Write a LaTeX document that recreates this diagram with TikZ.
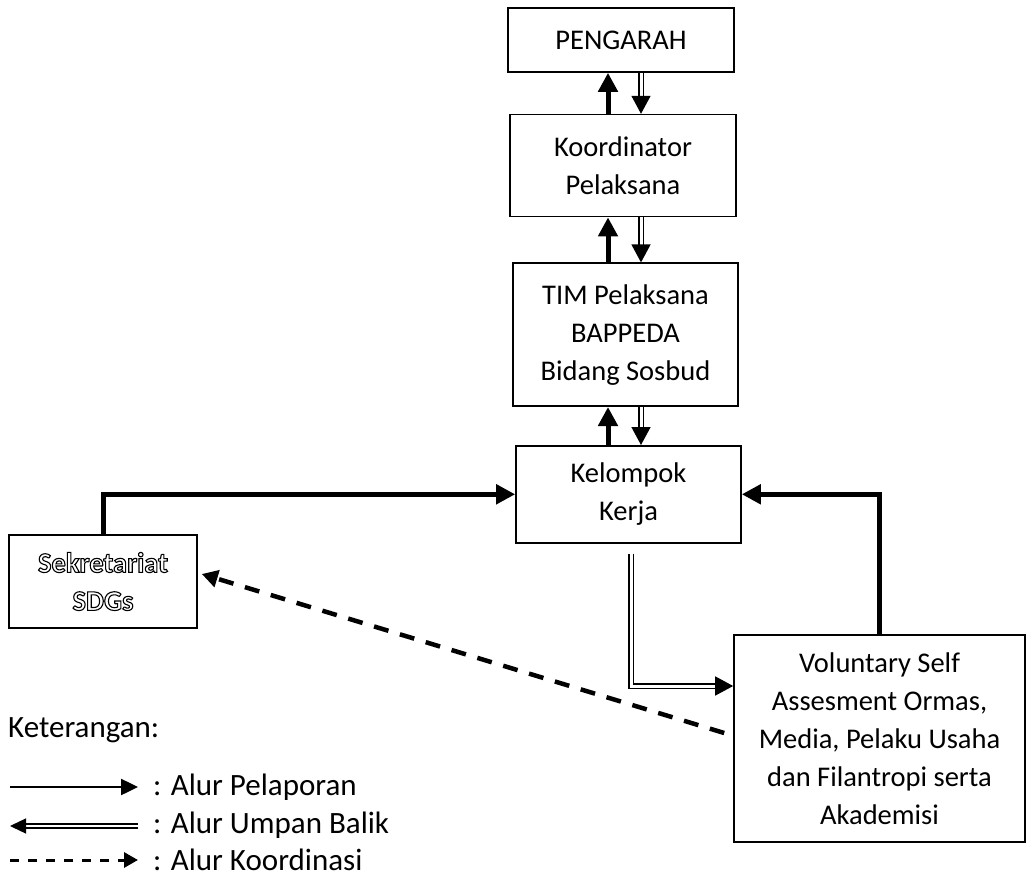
\documentclass[tikz,border=0pt]{standalone}
\usepackage{fontspec}
\setmainfont{Carlito}
\usepackage{xcolor}
\usetikzlibrary{positioning,arrows.meta}
\newcommand{\hurufgaris}[1]{\textcolor{white}{\bfseries\special{pdf:literal direct 2 Tr 1.1 w 0 G}#1\special{pdf:literal direct 0 Tr}}}

\begin{document}
\begin{tikzpicture}[x=1pt,y=-1pt]
  \tikzstyle{kotak}=[draw,line width=1.6pt,align=center,inner sep=0pt,
    font=\fontsize{28.5}{38}\selectfont]
  \tikzstyle{lapor}=[line width=5pt,-{Triangle[length=19pt,width=19pt]}]
  \tikzstyle{balik}=[double,double distance=3pt,line width=1.5pt,
    -{Triangle[length=18pt,width=19pt]}]
  \tikzstyle{koordinasi}=[line width=4.5pt,dash pattern=on 15pt off 12pt,
    -{Triangle[length=16pt,width=17pt]}]
  \tikzstyle{ket}=[anchor=base west,inner sep=0pt,
    font=\fontsize{31}{38}\selectfont]
  \useasboundingbox (0,0) rectangle (1026,880);
  % kotak-kotak
  \node[kotak,minimum width=226pt,minimum height=64pt] (pengarah) at (621,40) {PENGARAH};
  \node[kotak,minimum width=226pt,minimum height=102pt,below=41pt of pengarah,xshift=2pt] (koor) {Koordinator\\Pelaksana};
  \node[kotak,minimum width=225pt,minimum height=143pt,below=45pt of koor,xshift=2.5pt] (tim) {TIM Pelaksana\\BAPPEDA\\Bidang Sosbud};
  \node[kotak,minimum width=225pt,minimum height=97pt,below=38pt of tim,xshift=3pt] (kelompok) {Kelompok\\Kerja};
  \node[kotak,minimum width=188pt,minimum height=93pt] (sekr) at (103,581.5) {\hurufgaris{Sekretariat}\\\hurufgaris{SDGs}};
  \node[kotak,minimum width=291pt,minimum height=207pt] (vol) at (879.5,738.5) {Voluntary Self\\Assesment Ormas,\\Media, Pelaku Usaha\\dan Filantropi serta\\Akademisi};
  % panah
  \coordinate (naik) at (608,0);
  \coordinate (turun) at (641,0);
  \draw[lapor] (koor.north -| naik) -- (pengarah.south -| naik);
  \draw[balik] (pengarah.south -| turun) -- (koor.north -| turun);
  \draw[lapor] (tim.north -| naik) -- (koor.south -| naik);
  \draw[balik] (koor.south -| turun) -- (tim.north -| turun);
  \draw[lapor] (kelompok.north -| naik) -- (tim.south -| naik);
  \draw[balik] (tim.south -| turun) -- (kelompok.north -| turun);
  \draw[lapor] (sekr.north) |- (kelompok.west);
  \draw[lapor] (vol.north) |- (kelompok.east);
  \draw[balik] ([xshift=2.5pt,yshift=-10pt]kelompok.south) |- ([yshift=52.5pt]vol.west);
  \draw[koordinasi] ([xshift=-9pt,yshift=5.5pt]vol.west) -- ([xshift=4pt,yshift=7.5pt]sekr.east);
  % keterangan
  \node[ket] (keterangan) at (8,737) {Keterangan:};
  \coordinate (p1) at (10,787); \coordinate (p2) at (138,787);
  \coordinate (u1) at (138,826); \coordinate (u2) at (10,826);
  \coordinate (k1) at (10,860); \coordinate (k2) at (138,860);
  \draw[line width=2.5pt,-{Triangle[length=17pt,width=16pt]}] (p1) -- (p2);
  \draw[double,double distance=2.5pt,line width=1.3pt,-{Triangle[length=16pt,width=15pt]}] (u1) -- (u2);
  \draw[line width=3pt,dash pattern=on 9pt off 9pt,-{Triangle[length=14pt,width=15pt]}] (k1) -- (k2);
  \node[ket] (lpelaporan) at (153,795) {: Alur Pelaporan};
  \node[ket] (lbalik) at (153,833) {: Alur Umpan Balik};
  \node[ket] (lkoordinasi) at (153,870) {: Alur Koordinasi};
\end{tikzpicture}
\end{document}
